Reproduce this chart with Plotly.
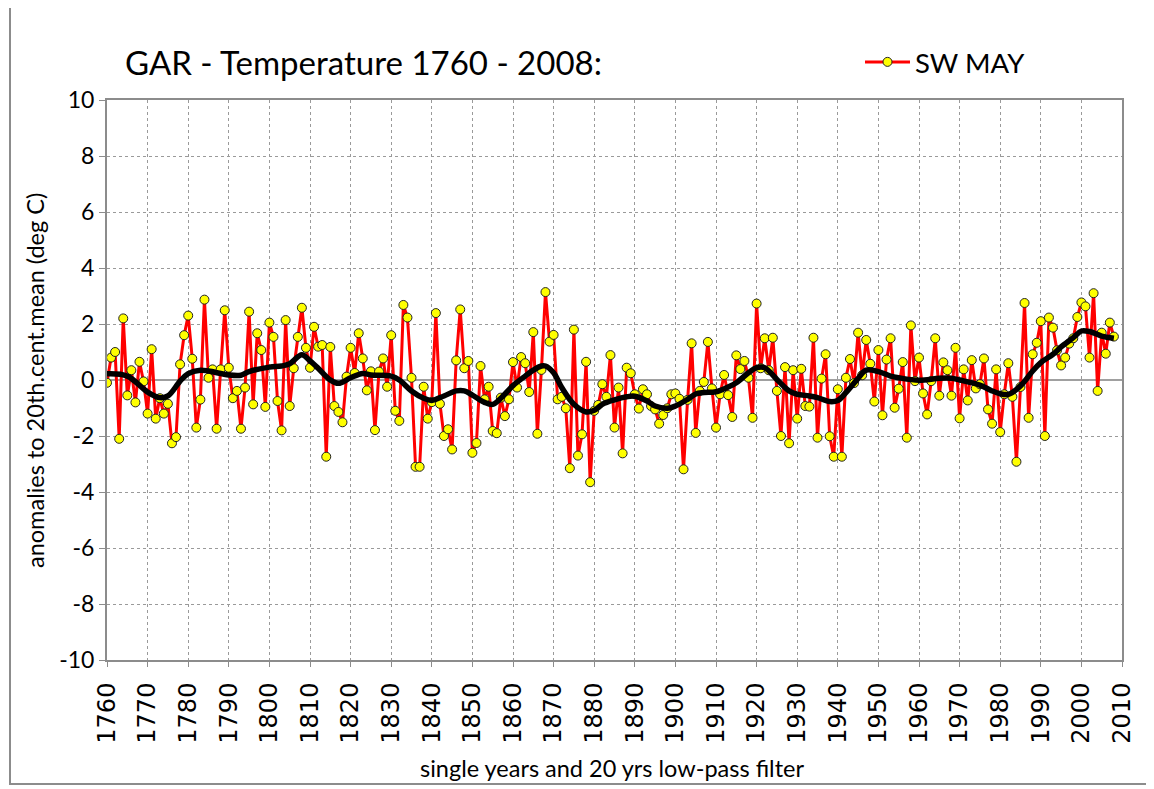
import plotly.graph_objects as go

years = list(range(1760, 2009))
may_anom = [
    -0.1, 0.8, 1.0, -2.1, 2.2, -0.55, 0.35, -0.8, 0.65, -0.05,
    -1.2, 1.1, -1.38, -0.65, -1.2, -0.85, -2.26, -2.04, 0.56, 1.6,
    2.3, 0.76, -1.7, -0.7, 2.87, 0.08, 0.38, -1.74, 0.38, 2.49,
    0.44, -0.65, -0.39, -1.74, -0.27, 2.44, -0.87, 1.67, 1.07, -0.96,
    2.05, 1.54, -0.75, -1.8, 2.14, -0.93, 0.42, 1.54, 2.58, 1.15,
    0.44, 1.9, 1.19, 1.25, -2.74, 1.18, -0.93, -1.14, -1.51, 0.12,
    1.15, 0.25, 1.67, 0.77, -0.37, 0.31, -1.79, 0.3, 0.77, -0.24,
    1.6, -1.1, -1.46, 2.68, 2.23, 0.08, -3.1, -3.1, -0.24, -1.38,
    -0.79, 2.39, -0.85, -2.0, -1.76, -2.48, 0.7, 2.52, 0.42, 0.68,
    -2.6, -2.25, 0.5, -0.69, -0.24, -1.82, -1.9, -0.63, -1.29, -0.69,
    0.64, -0.27, 0.82, 0.6, -0.43, 1.71, -1.92, 0.36, 3.14, 1.37,
    1.61, -0.69, -0.6, -1.01, -3.15, 1.8, -2.7, -1.94, 0.65, -3.65,
    -1.1, -0.89, -0.15, -0.6, 0.89, -1.7, -0.27, -2.62, 0.44, 0.24,
    -0.51, -1.02, -0.33, -0.51, -0.93, -1.05, -1.56, -1.25, -1.01, -0.51,
    -0.48, -0.67, -3.19, -0.71, 1.31, -1.89, -0.39, -0.07, 1.36, -0.3,
    -1.7, -0.51, 0.18, -0.54, -1.32, 0.88, 0.39, 0.68, 0.08, -1.35,
    2.73, 0.42, 1.49, 0.35, 1.51, -0.39, -2.0, 0.46, -2.26, 0.35,
    -1.38, 0.4, -0.93, -0.95, 1.51, -2.06, 0.05, 0.92, -2.01, -2.74,
    -0.33, -2.74, 0.08, 0.75, -0.11, 1.69, 0.17, 1.43, 0.58, -0.77,
    1.07, -1.26, 0.73, 1.49, -0.99, -0.31, 0.64, -2.06, 1.95, -0.04,
    0.8, -0.48, -1.23, -0.04, 1.49, -0.56, 0.63, 0.35, -0.56, 1.15,
    -1.37, 0.38, -0.73, 0.71, -0.3, -0.15, 0.77, -1.05, -1.56, 0.38,
    -1.86, -0.51, 0.6, -0.6, -2.92, -0.25, 2.75, -1.35, 0.92, 1.33,
    2.1, -2.0, 2.23, 1.87, 1.06, 0.52, 0.8, 1.3, 1.49, 2.25,
    2.77, 2.63, 0.8, 3.1, -0.39, 1.69, 0.94, 2.05, 1.55,
]

smooth_years = [1760, 1765, 1770, 1773, 1775, 1778, 1780, 1783, 1785,
                1790, 1793, 1795, 1800, 1803, 1805, 1808, 1810, 1812, 1815, 1817,
                1820, 1823, 1825, 1830, 1832, 1835, 1838, 1840, 1843, 1846, 1848,
                1850, 1853, 1855, 1857, 1860, 1863, 1865, 1867, 1868, 1870, 1872,
                1875, 1878, 1880, 1882, 1885, 1888, 1890, 1893, 1895, 1898,
                1900, 1903, 1905, 1907, 1910, 1913, 1915, 1918, 1920, 1922, 1925,
                1928, 1930, 1933, 1935, 1938, 1940, 1942, 1945, 1947, 1950, 1953,
                1955, 1960, 1965, 1968, 1970, 1975, 1978, 1980, 1982, 1985, 1988,
                1990, 1993, 1995, 1998, 2000, 2002, 2005, 2008]
smooth_vals = [0.22, 0.14, -0.43, -0.63, -0.57, -0.04, 0.23, 0.35, 0.32,
               0.18, 0.17, 0.3, 0.46, 0.5, 0.58, 0.9, 0.68, 0.42, 0.0, -0.12,
               0.08, 0.23, 0.18, 0.14, 0.0, -0.39, -0.65, -0.73, -0.57, -0.39, -0.39,
               -0.54, -0.8, -0.87, -0.65, -0.2, 0.14, 0.35, 0.5, 0.5, 0.26, -0.27,
               -0.87, -1.14, -1.08, -0.87, -0.71, -0.6, -0.58, -0.75, -0.93, -1.01,
               -0.93, -0.69, -0.5, -0.45, -0.42, -0.25, -0.1, 0.26, 0.44, 0.44, 0.02,
               -0.39, -0.51, -0.57, -0.63, -0.77, -0.73, -0.45, 0.06, 0.35, 0.3, 0.14,
               0.08, -0.01, 0.06, 0.06, 0.0, -0.18, -0.39, -0.49, -0.51, -0.21, 0.32,
               0.62, 0.92, 1.18, 1.51, 1.75, 1.73, 1.57, 1.49]

x_ticks = list(range(1760, 2011, 10))
y_ticks = list(range(-10, 11, 2))
y_ticktext = [str(v) for v in y_ticks]  # plain hyphen minus

title_text = "GAR - Temperature 1760 - 2008:"
series_name = "SW MAY"
y_title = "anomalies to 20th.cent.mean (deg C)"
x_title = "single years and 20 yrs low-pass filter"

W, H = 1154, 789
OFF = 8  # page body margin offset
# desired on-screen plot box: left 107, right 1122, top 100, bottom 660
L = 107 - OFF
R = W - (1122 - OFF)
T = 100 - OFF
B = H - (660 - OFF)
pw, ph = W - L - R, H - T - B

def px_x(px):
    return (px - OFF - L) / pw

def px_y(py):
    return (H - B - (py - OFF)) / ph

FONT = "Lato"

fig = go.Figure()
fig.add_trace(go.Scatter(
    x=years, y=may_anom, mode="lines+markers", name=series_name,
    line=dict(color="#FF0000", width=3),
    marker=dict(color="#FFFF00", size=9, line=dict(color="#222222", width=1)),
    showlegend=True,
))
fig.add_trace(go.Scatter(
    x=smooth_years, y=smooth_vals, mode="lines", name="20 yrs low-pass",
    line=dict(color="#000000", width=5.5, shape="spline", smoothing=1.0),
    showlegend=False,
))

fig.update_layout(
    width=W, height=H,
    margin=dict(l=L, r=R, t=T, b=B),
    plot_bgcolor="white", paper_bgcolor="white",
    font=dict(family=FONT, color="#000000", size=21),
    showlegend=True,
    legend=dict(x=px_x(860), y=px_y(62), xanchor="left", yanchor="middle",
                bgcolor="rgba(0,0,0,0)", font=dict(family=FONT, size=27.5),
                itemwidth=45),
    xaxis=dict(
        range=[1760, 2010], tickmode="array", tickvals=x_ticks,
        ticktext=[str(v) for v in x_ticks], tickangle=-90,
        tickfont=dict(family="DejaVu Sans", size=24),
        ticklabelstandoff=6,
        showgrid=True, gridcolor="#9a9a9a", griddash="dot", gridwidth=1,
        showline=True, linecolor="#8c8c8c", linewidth=2, mirror=True,
        ticks="outside", ticklen=5, tickcolor="#8c8c8c",
        zeroline=False,
    ),
    yaxis=dict(
        range=[-10, 10], tickmode="array", tickvals=y_ticks, ticktext=y_ticktext,
        tickfont=dict(family=FONT, size=23),
        showgrid=True, gridcolor="#9a9a9a", griddash="dot", gridwidth=1,
        showline=True, linecolor="#8c8c8c", linewidth=2, mirror=True,
        ticks="outside", ticklen=6, tickcolor="#8c8c8c",
        zeroline=True, zerolinecolor="#a0a0a0", zerolinewidth=2,
    ),
    annotations=[
        dict(text=title_text, xref="paper", yref="paper",
             x=px_x(123), y=px_y(62), xanchor="left", yanchor="middle",
             showarrow=False, font=dict(family=FONT, size=33)),
        dict(text=y_title, xref="paper", yref="paper",
             x=px_x(35), y=px_y(381), xanchor="center", yanchor="middle",
             textangle=-90, showarrow=False, font=dict(family=FONT, size=23.5)),
        dict(text=x_title, xref="paper", yref="paper",
             x=px_x(612), y=px_y(768), xanchor="center", yanchor="middle",
             showarrow=False, font=dict(family=FONT, size=23.5)),
    ],
    shapes=[
        dict(type="rect", xref="paper", yref="paper",
             x0=px_x(10), x1=px_x(1150), y0=px_y(784), y1=px_y(-10),
             line=dict(color="#8c8c8c", width=2), fillcolor="rgba(0,0,0,0)",
             layer="below"),
    ],
)

fig.write_html("out.html")
